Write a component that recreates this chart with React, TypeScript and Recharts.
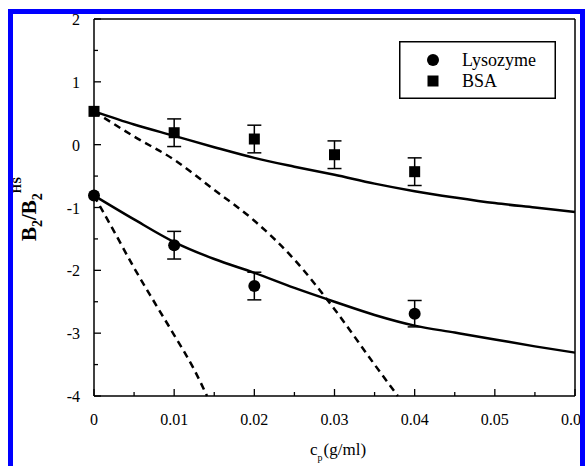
import React from 'react';
import { ComposedChart, Line, Scatter, ErrorBar, XAxis, YAxis, Legend } from 'recharts';

// measured points (c in g/ml, B2/B2HS)
const lysozymePoints = [
  { x: 0, y: -0.81, err: 0 },
  { x: 0.01, y: -1.6, err: 0.22 },
  { x: 0.02, y: -2.25, err: 0.22 },
  { x: 0.04, y: -2.69, err: 0.21 },
];
const bsaPoints = [
  { x: 0, y: 0.53, err: 0 },
  { x: 0.01, y: 0.19, err: 0.22 },
  { x: 0.02, y: 0.09, err: 0.22 },
  { x: 0.03, y: -0.16, err: 0.22 },
  { x: 0.04, y: -0.43, err: 0.22 },
];

// theory curves
const bsaSolid = [
  { x: 0, y: 0.53 }, { x: 0.005, y: 0.32 }, { x: 0.01, y: 0.14 }, { x: 0.015, y: -0.04 },
  { x: 0.02, y: -0.21 }, { x: 0.025, y: -0.35 }, { x: 0.03, y: -0.48 }, { x: 0.035, y: -0.62 },
  { x: 0.04, y: -0.74 }, { x: 0.045, y: -0.84 }, { x: 0.05, y: -0.93 }, { x: 0.055, y: -1.0 },
  { x: 0.06, y: -1.07 },
];
const lysozymeSolid = [
  { x: 0, y: -0.81 }, { x: 0.005, y: -1.19 }, { x: 0.01, y: -1.55 }, { x: 0.015, y: -1.82 },
  { x: 0.02, y: -2.04 }, { x: 0.025, y: -2.28 }, { x: 0.03, y: -2.5 }, { x: 0.035, y: -2.71 },
  { x: 0.04, y: -2.88 }, { x: 0.045, y: -2.99 }, { x: 0.05, y: -3.1 }, { x: 0.055, y: -3.21 },
  { x: 0.06, y: -3.31 },
];
const bsaDashed = [
  { x: 0, y: 0.53 }, { x: 0.005, y: 0.13 }, { x: 0.01, y: -0.24 }, { x: 0.015, y: -0.72 },
  { x: 0.02, y: -1.21 }, { x: 0.025, y: -1.83 }, { x: 0.03, y: -2.62 }, { x: 0.035, y: -3.5 },
  { x: 0.0379, y: -4 },
];
const lysozymeDashed = [
  { x: 0, y: -0.81 }, { x: 0.0025, y: -1.38 }, { x: 0.005, y: -1.96 }, { x: 0.0075, y: -2.5 },
  { x: 0.01, y: -3.03 }, { x: 0.0125, y: -3.58 }, { x: 0.0141, y: -4 },
];

const xTicks = [0, 0.005, 0.01, 0.015, 0.02, 0.025, 0.03, 0.035, 0.04, 0.045, 0.05, 0.055, 0.06];
const yTicks = [-4, -3.5, -3, -2.5, -2, -1.5, -1, -0.5, 0, 0.5, 1, 1.5, 2];

const FONT = '"Liberation Serif", "Times New Roman", serif';

const isMajorX = (v: number) => Math.abs(v * 100 - Math.round(v * 100)) < 1e-6;
const isMajorY = (v: number) => Math.abs(v - Math.round(v)) < 1e-6;

const XTick = (props: any) => {
  const { x, y, payload, side } = props;
  const v = payload.value;
  const major = isMajorX(v);
  const len = major ? 7 : 4;
  return (
    <g>
      <line x1={x} x2={x} y1={y} y2={side === 'top' ? y + len : y - len} stroke="#000" strokeWidth={1.3} />
      {side === 'bottom' && major && (
        <text x={x} y={y + 29} textAnchor="middle" fontFamily={FONT} fontSize={16} fill="#000">
          {v === 0 ? '0' : v.toFixed(2)}
        </text>
      )}
    </g>
  );
};

const YTick = (props: any) => {
  const { x, y, payload, side } = props;
  const v = payload.value;
  const major = isMajorY(v);
  const len = major ? 7 : 4;
  return (
    <g>
      <line x1={x} x2={side === 'left' ? x + len : x - len} y1={y} y2={y} stroke="#000" strokeWidth={1.3} />
      {side === 'left' && major && (
        <text x={x - 14} y={y + 6} textAnchor="end" fontFamily={FONT} fontSize={16} fill="#000">
          {String(Math.round(v))}
        </text>
      )}
    </g>
  );
};

const Dot = (p: any) => <circle cx={p.cx} cy={p.cy} r={6} fill="#000" />;
const Square = (p: any) => <rect x={p.cx - 5.5} y={p.cy - 5.5} width={11} height={11} fill="#000" />;

const LegendBox = () => (
  <svg width={157} height={58} style={{ display: 'block' }}>
    <rect x={0.75} y={0.75} width={155.5} height={56.5} fill="#fff" stroke="#000" strokeWidth={1.5} />
    <circle cx={34} cy={19} r={6} fill="#000" />
    <rect x={28.5} y={34.5} width={11} height={11} fill="#000" />
    <text x={63} y={25} fontFamily={FONT} fontSize={18} fill="#000">Lysozyme</text>
    <text x={63} y={46} fontFamily={FONT} fontSize={18} fill="#000">BSA</text>
  </svg>
);

export default function App() {
  return (
    <div style={{ position: 'fixed', left: 0, top: 0, width: 585, height: 466, background: '#fff', overflow: 'hidden' }}>
      <ComposedChart width={585} height={466} margin={{ top: 18, right: 9, bottom: 40, left: 34 }}>
        <XAxis xAxisId="b" dataKey="x" type="number" domain={[0, 0.06]} ticks={xTicks} interval={0}
          orientation="bottom" height={30} tickSize={0} tickMargin={0} tickLine={false}
          axisLine={{ stroke: '#000', strokeWidth: 1.5 }} tick={(p: any) => <XTick {...p} side="bottom" />} />
        <XAxis xAxisId="t" dataKey="x" type="number" domain={[0, 0.06]} ticks={xTicks} interval={0}
          orientation="top" height={1} tickSize={0} tickMargin={0} tickLine={false}
          axisLine={{ stroke: '#000', strokeWidth: 1.5 }} tick={(p: any) => <XTick {...p} side="top" />} />
        <YAxis yAxisId="l" type="number" domain={[-4, 2]} ticks={yTicks} interval={0}
          orientation="left" width={60} tickSize={0} tickMargin={0} tickLine={false}
          axisLine={{ stroke: '#000', strokeWidth: 1.5 }} tick={(p: any) => <YTick {...p} side="left" />} />
        <YAxis yAxisId="r" type="number" domain={[-4, 2]} ticks={yTicks} interval={0}
          orientation="right" width={1} tickSize={0} tickMargin={0} tickLine={false}
          axisLine={{ stroke: '#000', strokeWidth: 1.5 }} tick={(p: any) => <YTick {...p} side="right" />} />

        <Line xAxisId="b" yAxisId="l" data={bsaDashed} dataKey="y" type="monotone" stroke="#000"
          strokeWidth={2.5} strokeDasharray="7 5" dot={false} isAnimationActive={false} legendType="none" />
        <Line xAxisId="b" yAxisId="l" data={lysozymeDashed} dataKey="y" type="monotone" stroke="#000"
          strokeWidth={2.5} strokeDasharray="7 5" dot={false} isAnimationActive={false} legendType="none" />
        <Line xAxisId="b" yAxisId="l" data={bsaSolid} dataKey="y" type="monotone" stroke="#000"
          strokeWidth={2.5} dot={false} isAnimationActive={false} legendType="none" />
        <Line xAxisId="b" yAxisId="l" data={lysozymeSolid} dataKey="y" type="monotone" stroke="#000"
          strokeWidth={2.5} dot={false} isAnimationActive={false} legendType="none" />

        <Scatter name="Lysozyme" xAxisId="b" yAxisId="l" data={lysozymePoints} dataKey="y" shape={Dot} isAnimationActive={false}>
          <ErrorBar dataKey="err" direction="y" width={7} stroke="#000" strokeWidth={1.5} isAnimationActive={false} />
        </Scatter>
        <Scatter name="BSA" xAxisId="b" yAxisId="l" data={bsaPoints} dataKey="y" shape={Square} isAnimationActive={false}>
          <ErrorBar dataKey="err" direction="y" width={7} stroke="#000" strokeWidth={1.5} isAnimationActive={false} />
        </Scatter>

        <Legend layout="horizontal" verticalAlign="middle" align="center" content={() => <LegendBox />}
          wrapperStyle={{ left: 399, top: 41, width: 157, height: 58 }} />
      </ComposedChart>

      <svg width={585} height={466} style={{ position: 'absolute', left: 0, top: 0, pointerEvents: 'none' }}>
        <text transform="translate(36,241) rotate(-90)" fontFamily={FONT} fontSize={21} fontWeight="bold" fill="#000">
          B<tspan dy={6} fontSize={14}>2</tspan>
          <tspan dy={-6}>/B</tspan>
          <tspan dy={6} fontSize={14}>2</tspan>
          <tspan dy={-21} fontSize={12}>HS</tspan>
        </text>
        <text x={310} y={455} fontFamily={FONT} fontSize={17} fill="#000">
          c<tspan dy={6} fontSize={10}>p</tspan>
          <tspan dx={1} dy={-6}>(g/ml)</tspan>
        </text>
      </svg>

      <div style={{
        position: 'absolute', left: 8, top: 9, width: 577, height: 457, boxSizing: 'border-box',
        borderLeft: '5px solid #0000ff', borderTop: '5px solid #0000ff', borderRight: '5px solid #0000ff',
        pointerEvents: 'none',
      }} />
    </div>
  );
}
